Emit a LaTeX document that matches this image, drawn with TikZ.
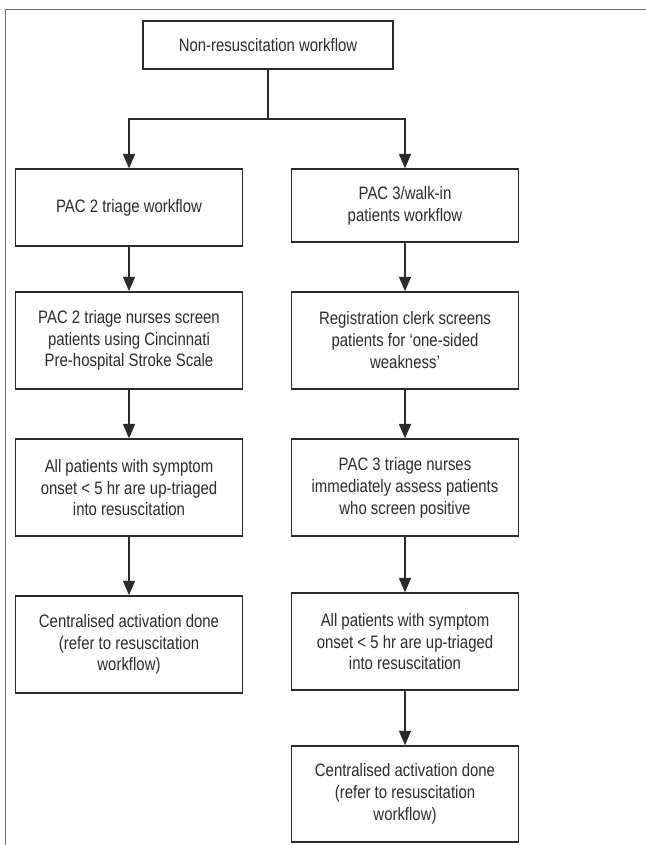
\documentclass[tikz,border=0pt]{standalone}
\usepackage{fontspec}
\setmainfont[FakeStretch=0.83]{Liberation Sans}
\usepackage{tikz}
\usetikzlibrary{arrows.meta}
\usetikzlibrary{positioning}
\definecolor{linegray}{HTML}{2B2B2B}
\definecolor{framegray}{HTML}{6E6E6E}
\tikzset{
	box/.style={rectangle, draw=linegray, line width=1.05pt, align=center, text=linegray,
		minimum width=5.68cm, minimum height=2.425cm, inner sep=2pt,
		font=\fontsize{12.8}{15.6}\selectfont},
	link/.style={draw=linegray, line width=1.05pt}
}
\begin{document}
\begin{tikzpicture}[>={Triangle[width=3mm,length=3.6mm]}]
				\useasboundingbox (0,0) rectangle (16.15,-21.125);
				\draw[framegray, line width=0.6pt] (16.15,-0.225) -- (0.125,-0.225) -- (0.125,-21.125);
				
				\node[box, minimum width=6.25cm, minimum height=1.2cm] (top) at (6.7,-1.125) {Non-resuscitation workflow};
				\node[box, minimum height=1.925cm] (L1) at (3.225,-5.19) {PAC 2 triage workflow};
				\node[box, minimum height=1.825cm] (R1) at (10.125,-5.14) {PAC 3/walk-in\\patients workflow};
				\node[box] (L2) at (3.225,-8.51) {PAC 2 triage nurses screen\\patients using Cincinnati\\Pre-hospital Stroke Scale};
				\node[box] (R2) at (10.125,-8.51) {Registration clerk screens\\patients for `one-sided\\weakness'};
				\node[box] (L3) at (3.225,-12.19) {All patients with symptom\\onset < 5 hr are up-triaged\\into resuscitation};
				\node[box] (R3) at (10.125,-12.19) {PAC 3 triage nurses\\immediately assess patients\\who screen positive};
				\node[box] (L4) at (3.225,-16.11) {Centralised activation done\\(refer to resuscitation\\workflow)};
				\node[box] (R4) at (10.125,-16.04) {All patients with symptom\\onset < 5 hr are up-triaged\\into resuscitation};
				\node[box, minimum height=2.4cm] (R5) at (10.125,-19.85) {Centralised activation done\\(refer to resuscitation\\workflow)};
				\coordinate (split) at (6.7,-2.975);
				
				\draw[link] (top) -- (split);
				\draw[link, ->] (split) -| (L1);
				\draw[link, ->] (split) -| (R1);
				\draw[link, ->] (L1) -- (L2);
				\draw[link, ->] (L2) -- (L3);
				\draw[link, ->] (L3) -- (L4);
				\draw[link, ->] (R1) -- (R2);
				\draw[link, ->] (R2) -- (R3);
				\draw[link, ->] (R3) -- (R4);
				\draw[link, ->] (R4) -- (R5);
			\end{tikzpicture}
\end{document}
